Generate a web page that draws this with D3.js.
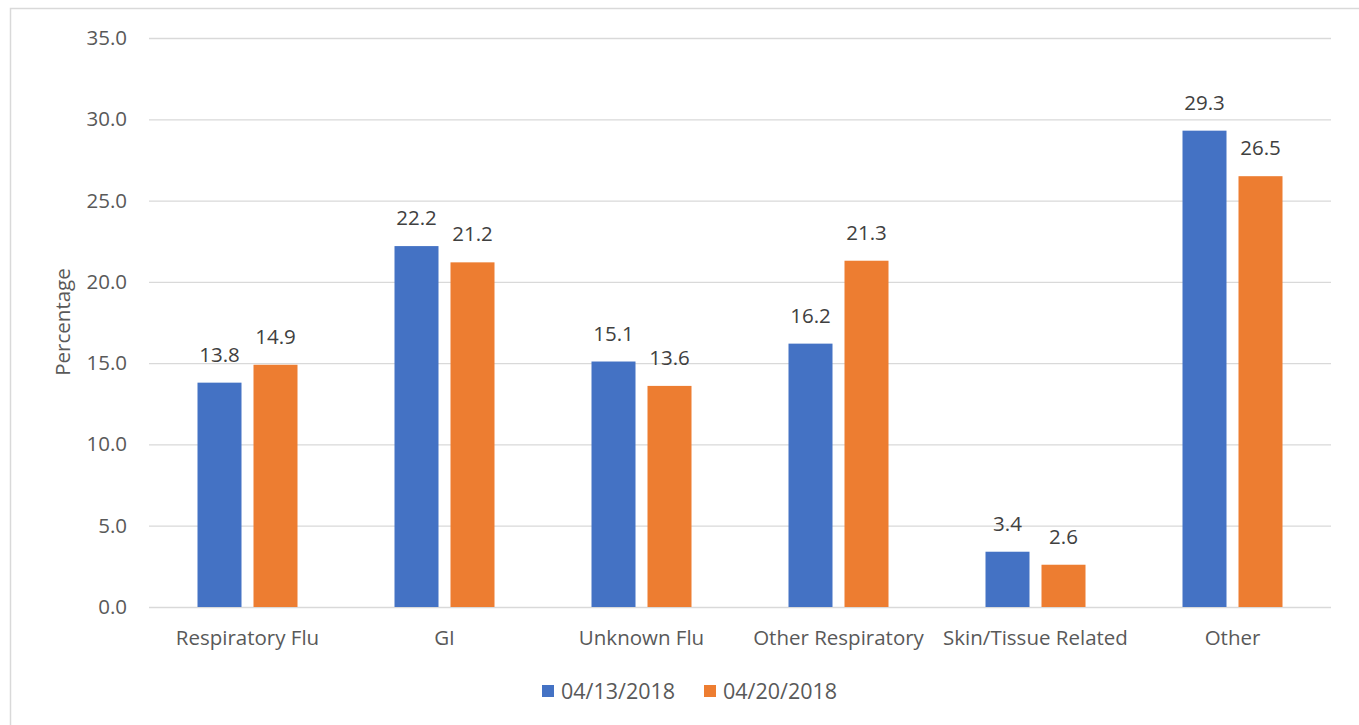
<!DOCTYPE html>
<html><head><meta charset="utf-8">
<script src="https://cdn.jsdelivr.net/npm/d3@7"></script>
<style>
body{margin:0;background:#fff;}
text{font-family:"Open Sans","Noto Sans",sans-serif;}
</style></head>
<body><svg id="c" width="1359" height="725"></svg>
<script>
const categories = ["Respiratory Flu","GI","Unknown Flu","Other Respiratory","Skin/Tissue Related","Other"];
const seriesNames = ["04/13/2018","04/20/2018"];
const values1 = [13.8,22.2,15.1,16.2,3.4,29.3];
const values2 = [14.9,21.2,13.6,21.3,2.6,26.5];
const yTicks = [0,5,10,15,20,25,30,35];
const colors = ["#4472C4","#ED7D31"];
const FS = "20.5px";

const svg = d3.select("#c");
svg.append("rect").attr("x",10.5).attr("y",8.5).attr("width",1360).attr("height",730)
  .attr("fill","none").attr("stroke","#d9d9d9").attr("stroke-width",1.5);

const pL=149, pR=1331, pT=38, pB=607;
const x = d3.scaleBand().domain(categories).range([pL,pR]).paddingInner(0).paddingOuter(0);
const y = d3.scaleLinear().domain([0,35]).range([pB,pT]);
const bw = 44, gap = 12;

// grid
const yAxis = d3.axisLeft(y).tickValues(yTicks).tickFormat(d3.format(".1f")).tickSize(-(pR-pL)).tickPadding(22);
const ga = svg.append("g").attr("transform",`translate(${pL},0)`).call(yAxis);
ga.select(".domain").remove();
ga.selectAll(".tick line").attr("stroke","#d9d9d9").attr("stroke-width",1.3);
ga.selectAll(".tick text").attr("fill","#595959").style("font-size",FS);

// bars
const data = categories.map((c,i)=>({c, v:[values1[i],values2[i]]}));
const g = svg.append("g");
data.forEach(d=>{
  const c0 = x(d.c) + (x.bandwidth()-(2*bw+gap))/2;
  d.v.forEach((v,j)=>{
    const bx = c0 + j*(bw+gap);
    g.append("rect").attr("x",bx).attr("y",y(v)).attr("width",bw).attr("height",y(0)-y(v))
      .attr("fill",colors[j]);
    g.append("text").attr("x",bx+bw/2).attr("y",y(v)-21).attr("text-anchor","middle")
      .attr("fill","#404040").style("font-size",FS).text(d3.format(".1f")(v));
  });
});

// x labels
const xAxis = d3.axisBottom(x).tickSize(0).tickPadding(23);
const gx = svg.append("g").attr("transform",`translate(0,${pB})`).call(xAxis);
gx.select(".domain").remove();
gx.selectAll(".tick text").attr("fill","#595959").style("font-size",FS);

// y title
svg.append("text").attr("transform",`translate(70,322) rotate(-90)`).attr("text-anchor","middle")
  .attr("fill","#595959").style("font-size",FS).text("Percentage");

// legend
const lg = svg.append("g");
const lx = [542,704];
seriesNames.forEach((n,i)=>{
  lg.append("rect").attr("x",lx[i]).attr("y",685).attr("width",12).attr("height",12).attr("fill",colors[i]);
  lg.append("text").attr("x",lx[i]+19).attr("y",699).attr("fill","#595959").style("font-size","21.5px").text(n);
});
</script></body></html>
